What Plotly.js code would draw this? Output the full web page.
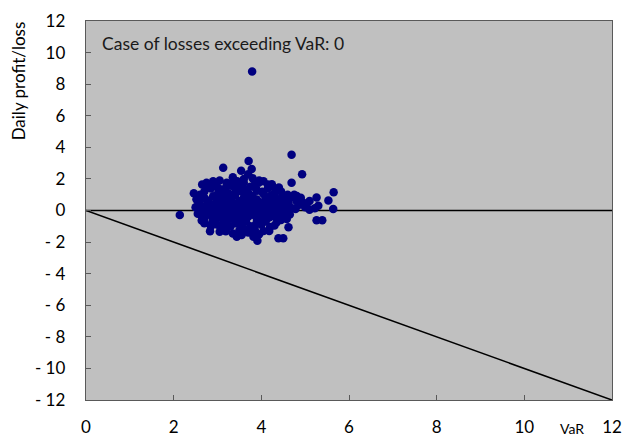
<!DOCTYPE html>
<html>
<head>
<meta charset="utf-8">
<script src="https://cdn.plot.ly/plotly-3.0.1.min.js"></script>
<style>html,body{margin:0;padding:0;background:#fff}#chart{width:627px;height:439px}</style>
</head>
<body>
<div id="chart"></div>
<script>
// Scatter of VaR (x) vs daily profit/loss (y)
const varX = [
3.79,4.69,3.13,3.71,3.54,3.78,4.93,4.69,5.65,5.26,5.53,5.64,5.03,5.22,5.26,5.39,2.14,2.46,2.52,2.83,3.19,3.44,3.55,3.82,3.91,4.18,4.39,4.50,4.62,4.50,4.58,2.64,4.24,4.37,4.81,3.21,3.32,2.90,2.79,3.94,
2.70,2.85,3.00,3.10,3.25,3.40,3.55,3.65,3.75,3.90,4.05,4.15,4.30,2.95,3.50,3.85,4.45,4.60,2.60,3.20,
2.55,2.70,2.80,2.90,3.00,3.10,3.15,3.30,3.40,3.50,3.60,3.70,3.80,3.90,4.00,4.10,4.20,4.35,4.50,4.65,4.80,4.95,3.35,3.85,2.65,
2.50,2.60,2.70,2.75,2.85,2.95,3.00,3.05,3.15,3.20,3.30,3.35,3.45,3.50,3.60,3.65,3.75,3.80,3.90,3.95,4.05,4.10,4.20,4.30,4.40,4.55,4.70,4.85,5.00,5.10,2.90,3.25,3.55,3.70,4.00,4.25,4.60,
2.55,2.65,2.75,2.85,2.95,3.05,3.10,3.20,3.30,3.40,3.45,3.55,3.65,3.70,3.80,3.85,3.95,4.05,4.15,4.25,4.35,4.50,4.65,2.70,3.60,4.40,
2.70,2.90,3.00,3.15,3.30,3.40,3.50,3.65,3.75,3.90,4.00,4.10,4.20,4.35,4.45,3.20,3.60,3.85,2.85,4.30,
3.05,3.35,3.70,3.95,4.05,3.50,
2.75,3.05,3.45,3.60,3.70,3.35,4.05,3.80,4.15,4.75,4.90,5.10,5.30,
2.62,2.78,2.92,3.08,3.22,3.38,3.52,3.68,3.82,3.98,4.12,4.28,4.42,
2.68,2.88,3.02,3.18,3.28,3.42,3.58,3.72,3.88,4.02,4.18,4.32,4.48,4.62,4.78,
2.58,2.72,2.98,3.12,3.28,3.48,3.62,3.78,3.92,4.08,4.22,4.38,3.02,3.42,3.88,4.52,
2.65,2.90,3.30,3.60,3.95,4.25,4.40
];
const profitLoss = [
8.80,3.53,2.71,3.13,2.52,2.63,2.29,1.76,1.15,0.83,0.64,0.10,0.30,0.14,-0.62,-0.62,-0.29,1.09,0.71,-1.32,-1.32,-1.66,-1.55,-1.66,-1.91,-1.30,-1.76,-1.76,-1.06,-0.39,-0.54,-0.64,1.66,1.30,0.92,1.76,1.57,1.76,1.57,1.76,
1.20,1.40,1.00,1.30,1.10,1.45,1.20,1.00,1.50,1.25,1.05,1.40,1.10,1.55,1.60,1.65,1.20,1.00,1.00,1.50,
0.60,0.80,0.55,0.90,0.70,0.50,0.85,0.65,0.95,0.60,0.80,0.55,0.90,0.70,0.50,0.85,0.60,0.75,0.55,0.80,0.60,0.50,0.50,0.60,0.95,
0.20,0.40,0.10,0.35,0.20,0.45,0.10,0.30,0.15,0.40,0.05,0.30,0.20,0.45,0.10,0.35,0.20,0.40,0.05,0.30,0.15,0.40,0.20,0.35,0.10,0.30,0.15,0.35,0.20,0.05,0.00,0.25,0.00,0.45,0.00,0.05,0.00,
-0.20,-0.40,-0.10,-0.30,-0.15,-0.45,-0.05,-0.30,-0.20,-0.45,-0.10,-0.35,-0.15,-0.40,-0.05,-0.30,-0.20,-0.45,-0.10,-0.35,-0.20,-0.10,-0.25,-0.50,-0.50,-0.45,
-0.80,-0.60,-0.90,-0.70,-1.00,-0.65,-0.85,-0.70,-1.00,-0.60,-0.90,-0.70,-1.05,-0.75,-0.60,-1.10,-1.15,-1.20,-1.00,-0.95,
-1.35,-1.45,-1.40,-1.50,-1.30,-1.25,
1.75,1.90,1.85,2.00,2.30,2.10,1.85,2.05,1.65,1.00,0.80,0.60,0.30,
0.28,0.62,-0.22,0.78,-0.62,0.12,-0.78,0.62,0.28,-0.55,0.72,-0.28,0.42,
-0.05,-0.75,1.12,0.05,0.82,1.18,-0.25,1.05,-0.85,1.18,-0.45,0.55,0.88,0.45,0.10,
0.82,0.02,-0.28,-0.95,-0.42,0.38,1.32,-0.18,0.52,0.22,0.95,-0.58,1.42,-0.80,1.38,0.12,
1.65,1.85,1.70,1.75,1.90,1.55,1.45
];
// Reference lines: zero line and loss = -VaR line
const lineX = [0, 12];
const zeroLineY = [0, 0];
const varLineY = [0, -12];

const xTickVals = [0, 2, 4, 6, 8, 10, 12];
const xTickText = ['0', '2', '4', '6', '8', '10', '12'];
const yTickVals = [12, 10, 8, 6, 4, 2, 0, -2, -4, -6, -8, -10, -12];
const yTickText = ['12', '10', '8', '6', '4', '2', '0', '- 2', '- 4', '- 6', '- 8', '- 10', '- 12'];

const annotationText = 'Case of losses exceeding VaR: 0';
const yTitle = 'Daily profit/loss';
const xTitle = 'VaR';

const FONT = 'Lato, "Open Sans", sans-serif';

const traces = [
  {x: lineX, y: zeroLineY, mode: 'lines', line: {color: '#000000', width: 1.6}, hoverinfo: 'skip', showlegend: false},
  {x: lineX, y: varLineY, mode: 'lines', line: {color: '#000000', width: 1.6}, hoverinfo: 'skip', showlegend: false},
  {x: varX, y: profitLoss, mode: 'markers', marker: {color: '#000080', size: 8.5}, showlegend: false}
];

const layout = {
  width: 627, height: 439,
  margin: {l: 86, r: 15, t: 21, b: 39, pad: 0},
  paper_bgcolor: '#ffffff',
  plot_bgcolor: '#c0c0c0',
  font: {family: FONT, size: 17, color: '#000000'},
  showlegend: false,
  xaxis: {
    range: [0, 12], tickvals: xTickVals, ticktext: xTickText,
    showgrid: false, zeroline: false,
    showline: true, mirror: true, linecolor: '#595959', linewidth: 1.3,
    ticks: 'inside', ticklen: 5, tickcolor: '#595959', tickwidth: 1,
    ticklabelstandoff: 11,
    tickfont: {family: FONT, size: 17, color: '#000000'}
  },
  yaxis: {
    range: [-12, 12], tickvals: yTickVals, ticktext: yTickText,
    showgrid: false, zeroline: false,
    showline: true, mirror: true, linecolor: '#595959', linewidth: 1.3,
    ticks: 'inside', ticklen: 5, tickcolor: '#595959', tickwidth: 1,
    ticklabelstandoff: 16,
    tickfont: {family: FONT, size: 17, color: '#000000'}
  },
  annotations: [
    {text: annotationText, xref: 'paper', yref: 'paper', x: 14/526, y: 1 - 22/379, xanchor: 'left', yanchor: 'middle', showarrow: false, font: {family: FONT, size: 17.5, color: '#1a1a1a'}},
    {text: yTitle, xref: 'paper', yref: 'paper', x: (18-86)/526, y: 1.003, xanchor: 'center', yanchor: 'top', textangle: -90, showarrow: false, font: {family: FONT, size: 17, color: '#000000'}},
    {text: xTitle, xref: 'paper', yref: 'paper', x: (572-86)/526, y: -39/379, xanchor: 'center', yanchor: 'bottom', showarrow: false, font: {family: FONT, size: 14, color: '#000000'}}
  ]
};

Plotly.newPlot('chart', traces, layout, {displayModeBar: false, staticPlot: true});
</script>
</body>
</html>
